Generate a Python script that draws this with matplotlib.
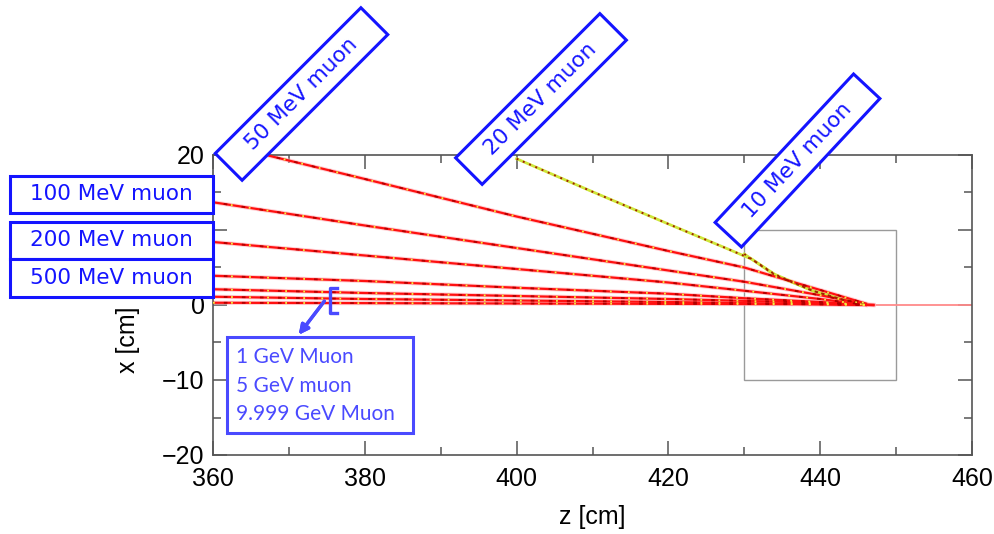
import numpy as np
import matplotlib.pyplot as plt
from matplotlib.patches import Rectangle
from matplotlib.lines import Line2D
from matplotlib.transforms import IdentityTransform

# muon tracks, (z [cm], x [cm]) points along each trajectory
track_names = ['10 MeV', '20 MeV', '50 MeV', '100 MeV', '200 MeV',
               '500 MeV', '1 GeV', '5 GeV', '9.999 GeV']
track_z = [
    [430, 434, 439, 443, 446],
    [400, 410, 420, 428, 431, 434, 439, 443, 446],
    [367, 380, 400, 420, 430, 440, 446],
    [360, 380, 400, 420, 430, 440, 446],
    [360, 380, 400, 420, 430, 440, 446],
    [360, 380, 400, 420, 430, 440, 446],
    [360, 380, 400, 420, 440, 447],
    [360, 380, 400, 420, 440, 447],
    [360, 400, 440, 447],
]
track_x = [
    [6.8, 4.0, 1.9, 0.7, 0.1],
    [19.5, 15.1, 10.8, 7.4, 6.1, 4.1, 1.9, 0.7, 0.1],
    [20.0, 16.8, 11.8, 7.2, 5.0, 2.0, 0.2],
    [13.7, 10.6, 7.6, 4.6, 3.1, 1.3, 0.1],
    [8.4, 6.6, 4.8, 3.0, 1.9, 0.8, 0.0],
    [3.9, 3.2, 2.3, 1.5, 0.9, 0.4, 0.0],
    [2.1, 1.6, 1.2, 0.8, 0.3, 0.0],
    [1.1, 0.8, 0.6, 0.4, 0.1, 0.0],
    [0.3, 0.2, 0.1, 0.0],
]
# beam line continuing past the stopping point
beam_z = [447, 460]
beam_x = [0, 0]

# detector volume outline
det_z = [430, 450]
det_x = [-10, 10]

z_ticks = [360, 380, 400, 420, 440, 460]
x_ticks = [-20, -10, 0, 10, 20]

W, H = 994, 534
fig = plt.figure(figsize=(W / 100, H / 100), dpi=100)
plt.rcParams['font.family'] = 'Liberation Sans'

ax_l, ax_r, ax_t, ax_b = 213, 972, 155, 455
ax = fig.add_axes([ax_l / W, 1 - ax_b / H, (ax_r - ax_l) / W, (ax_b - ax_t) / H])

ax.add_patch(Rectangle((det_z[0], det_x[0]), det_z[1] - det_z[0], det_x[1] - det_x[0],
                       fill=False, edgecolor='#9a9a9a', lw=1.0, zorder=1))

ax.plot(beam_z, beam_x, color='#ff8a8a', lw=1.3, zorder=2)

for name, z, x in zip(track_names, track_z, track_x):
    if name in ('10 MeV', '20 MeV'):
        ax.plot(z, x, color='#cfe63a', lw=2.0, zorder=3)
        ax.plot(z, x, color='#a02000', lw=1.4, ls=(0, (1, 2.5)), zorder=4)
    else:
        ax.plot(z, x, color='#ffb0b8', lw=3.0, alpha=0.6, zorder=2)
        ax.plot(z, x, color='#ff1010', lw=1.6, zorder=3)
        ax.plot(z, x, color='#f0f040', lw=1.3, ls=(0, (1, 9)), zorder=4)
        ax.plot(z, x, color='#b00000', lw=1.3, ls=(4, (2, 8)), zorder=4)

ax.set_xlim(360, 460)
ax.set_ylim(-20, 20)
ax.set_xticks(z_ticks)
ax.set_yticks(x_ticks)
ax.set_xticks(np.arange(370, 460, 20), minor=True)
ax.set_yticks(np.arange(-15, 20, 10), minor=True)
ax.tick_params(which='both', direction='in', top=True, right=True,
               color='#555555', width=1.1, labelsize=18)
ax.tick_params(axis='x', pad=9)
ax.tick_params(axis='y', pad=6)
ax.tick_params(which='major', length=10)
ax.tick_params(which='minor', length=6)
for s in ax.spines.values():
    s.set_color('#555555')
    s.set_linewidth(1.2)
ax.set_xlabel('z [cm]', fontsize=18, labelpad=10)
fig.text(128 / W, 1 - 340 / H, 'x [cm]', fontsize=18, rotation=90,
         ha='center', va='center')

px = IdentityTransform()
blue = '#1414ff'
light_blue = '#4a4aff'


def box(cx, cy, w, h, label, angle=0, color=blue, size=15.5, family='DejaVu Sans'):
    # cx, cy in pixels from the top-left corner of the image
    y = H - cy
    rect = Rectangle((cx - w / 2, y - h / 2), w, h, angle=angle,
                     rotation_point='center', transform=px,
                     facecolor='white', edgecolor=color, lw=2.2, zorder=5)
    fig.add_artist(rect)
    fig.text(cx / W, y / H, label, rotation=angle, rotation_mode='anchor',
             ha='center', va='center', color=color, fontsize=size,
             family=family, zorder=6)


box(111.5, 194.5, 203, 37, '100 MeV muon')
box(111.5, 240.5, 203, 37, '200 MeV muon')
box(111.5, 278, 203, 38, '500 MeV muon')
box(301.5, 94, 206, 38, '50 MeV muon', angle=45)
box(541, 99, 204, 37.5, '20 MeV muon', angle=45)
box(797.5, 160.5, 203, 36, '10 MeV muon', angle=47)

# GeV group: bracket, arrow and multi-line box
fig.add_artist(Rectangle((227, H - 433), 186, 96, transform=px, facecolor='white',
                         edgecolor=light_blue, lw=2.2, zorder=5))
for i, line in enumerate(['1 GeV Muon', '5 GeV muon', '9.999 GeV Muon']):
    fig.text(236 / W, 1 - (357 + 28.5 * i) / H, line, ha='left', va='center',
             color=light_blue, fontsize=15, family='Lato', zorder=6)
br = Line2D([337, 330, 330, 337], [H - 288, H - 288, H - 313, H - 313],
            transform=px, color=light_blue, lw=2.4, zorder=6)
fig.add_artist(br)
fig.add_artist(plt.annotate('', xy=(297 / W, 1 - 337 / H), xytext=(326 / W, 1 - 299 / H),
                            xycoords='figure fraction', textcoords='figure fraction',
                            arrowprops=dict(arrowstyle='-|>', color=light_blue, lw=2.4,
                                            mutation_scale=14)))

fig.savefig('out.png', dpi=100)
